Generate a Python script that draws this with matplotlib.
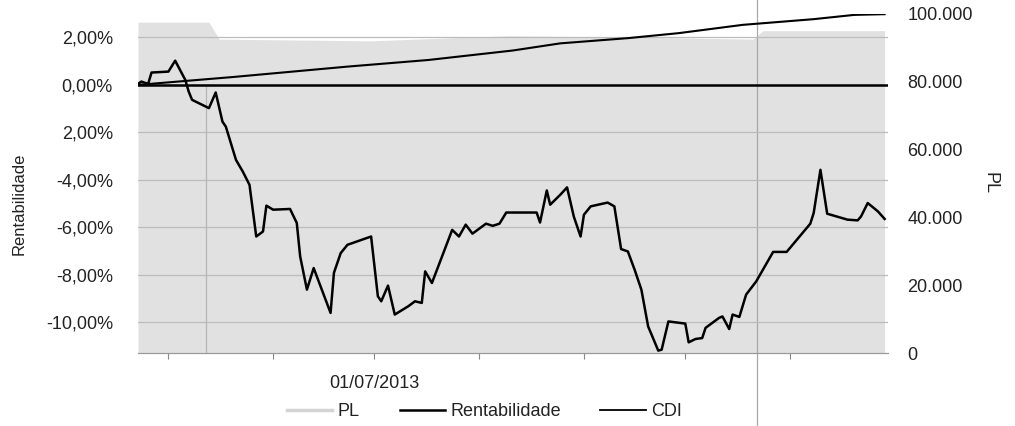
import numpy as np
import pandas as pd
import matplotlib
matplotlib.use('Agg')
import matplotlib.pyplot as plt
from matplotlib.lines import Line2D

#------------------------------------------------------------------------------
# data
#------------------------------------------------------------------------------

rent_dates=['2013-04-22','2013-04-23','2013-04-25','2013-04-26','2013-05-01',
            '2013-05-03','2013-05-06','2013-05-07','2013-05-08','2013-05-13',
            '2013-05-15','2013-05-17','2013-05-18','2013-05-21','2013-05-23',
            '2013-05-25','2013-05-27','2013-05-29','2013-05-30','2013-06-01',
            '2013-06-06','2013-06-08','2013-06-09','2013-06-11','2013-06-13',
            '2013-06-18','2013-06-19','2013-06-21','2013-06-23','2013-06-30',
            '2013-07-01','2013-07-02','2013-07-03','2013-07-05','2013-07-07',
            '2013-07-11','2013-07-13','2013-07-15','2013-07-16','2013-07-18',
            '2013-07-21','2013-07-24','2013-07-26','2013-07-28','2013-07-30',
            '2013-08-03','2013-08-05','2013-08-07','2013-08-09','2013-08-15',
            '2013-08-18','2013-08-19','2013-08-21','2013-08-22','2013-08-25',
            '2013-08-27','2013-08-29','2013-08-31','2013-09-01','2013-09-03',
            '2013-09-08','2013-09-10','2013-09-12','2013-09-14','2013-09-16',
            '2013-09-18','2013-09-20','2013-09-23','2013-09-24','2013-09-26',
            '2013-10-01','2013-10-02','2013-10-04','2013-10-06','2013-10-07',
            '2013-10-11','2013-10-12','2013-10-14','2013-10-15','2013-10-17',
            '2013-10-19','2013-10-22','2013-10-27','2013-10-31','2013-11-07',
            '2013-11-08','2013-11-10','2013-11-12','2013-11-18','2013-11-21',
            '2013-11-22','2013-11-24','2013-11-27','2013-11-29']

rent_values=[0.04,0.14,0.04,0.52,0.56,
             1.02,0.21,-0.28,-0.63,-0.98,
             -0.32,-1.55,-1.76,-3.16,-3.65,
             -4.21,-6.39,-6.18,-5.09,-5.26,
             -5.23,-5.82,-7.23,-8.63,-7.72,
             -9.61,-7.92,-7.09,-6.74,-6.39,
             -7.65,-8.91,-9.12,-8.46,-9.68,
             -9.33,-9.12,-9.19,-7.86,-8.35,
             -7.23,-6.11,-6.39,-5.89,-6.27,
             -5.85,-5.94,-5.85,-5.38,-5.38,
             -5.38,-5.80,-4.45,-5.05,-4.63,
             -4.32,-5.55,-6.39,-5.47,-5.12,
             -4.96,-5.12,-6.92,-7.02,-7.79,
             -8.63,-10.18,-11.20,-11.16,-9.97,
             -10.06,-10.85,-10.71,-10.67,-10.24,
             -9.82,-9.76,-10.29,-9.68,-9.78,
             -8.84,-8.28,-7.04,-7.04,-5.85,
             -5.40,-3.58,-5.43,-5.68,-5.71,
             -5.55,-4.98,-5.33,-5.65]

cdi_dates=['2013-04-22','2013-05-20','2013-06-23','2013-07-17','2013-08-11',
           '2013-08-25','2013-09-14','2013-09-29','2013-10-18','2013-11-08',
           '2013-11-20','2013-11-29']
cdi_values=[0.00,0.33,0.77,1.05,1.45,1.75,1.97,2.18,2.53,2.77,2.95,2.98]

pl_dates=['2013-04-22','2013-05-13','2013-05-16','2013-06-30','2013-08-10',
          '2013-09-20','2013-10-21','2013-10-24','2013-11-29']
pl_values=[97500,97500,92500,92000,93500,93000,92500,95000,95000]

left_ticks=[2,0,-2,-4,-6,-8,-10]
left_labels=['2,00%','0,00%','2,00%','-4,00%','-6,00%','-8,00%','-10,00%']
right_ticks=[0,20000,40000,60000,80000,100000]
right_labels=['0','20.000','40.000','60.000','80.000','100.000']
x_ticks=['2013-05-01','2013-06-01','2013-07-01','2013-08-01','2013-09-01',
         '2013-10-01','2013-11-01']
x_labels=['','','01/07/2013','','','','']

#------------------------------------------------------------------------------
# figure
#------------------------------------------------------------------------------

plt.rcParams['font.family']=['Liberation Sans','DejaVu Sans']
txt='#222222'

fig=plt.figure(figsize=(10.15,4.26),dpi=100)
ax=fig.add_axes([138/1015,(426-353)/426,750/1015,339.3/426])
ax2=ax.twinx()

# PL as a grey area on the secondary axis, drawn underneath
ax2.set_zorder(1)
ax.set_zorder(2)
ax.patch.set_visible(False)
ax2.fill_between(pd.to_datetime(pl_dates),pl_values,0,color='#e1e1e1',lw=0)
ax2.set_ylim(0,100000)
ax2.set_yticks(right_ticks)
ax2.set_yticklabels(right_labels,fontsize=13,color=txt)
ax2.tick_params(axis='y',length=0,pad=14)
ax2.set_ylabel('PL',fontsize=13,color=txt,rotation=270)
ax2.yaxis.set_label_coords(1.147,0.50)

ymin,ymax=-11.3,3.0
for g in left_ticks:
    ax.axhline(g,color='#bcbcbc',lw=0.9,zorder=0)
ax.axvline(pd.Timestamp('2013-05-12'),ymax=-ymin/(ymax-ymin),
           color='#b5b5b5',lw=0.9,zorder=0)

ax.axhline(0,color='black',lw=1.8,zorder=3)
ax.plot(pd.to_datetime(cdi_dates),cdi_values,color='black',lw=1.5,zorder=4)
ax.plot(pd.to_datetime(rent_dates),rent_values,color='black',lw=1.8,zorder=5)

ax.set_xlim(pd.Timestamp('2013-04-22'),pd.Timestamp('2013-11-30'))
ax.set_ylim(ymin,ymax)
ax.set_yticks(left_ticks)
ax.set_yticklabels(left_labels,fontsize=13,color=txt)
ax.tick_params(axis='y',length=0,pad=18)
ax.set_xticks(pd.to_datetime(x_ticks))
ax.set_xticklabels(x_labels,fontsize=13,color=txt)
ax.tick_params(axis='x',length=4,width=0.8,color='#888888',pad=12)
ax.set_ylabel('Rentabilidade',fontsize=12,color=txt)
ax.yaxis.set_label_coords(-0.148,0.439)

for a in (ax,ax2):
    for s in ['top','left','right']:
        a.spines[s].set_visible(False)
    a.spines['bottom'].set_color('#999999')
    a.spines['bottom'].set_linewidth(0.8)

# fold line running across the page
fig.add_artist(Line2D([757/1015,757/1015],[0,1],color='#a8a8a8',lw=0.9))

handles=[Line2D([0],[0],color='#d4d4d4',lw=2.5),
         Line2D([0],[0],color='black',lw=1.8),
         Line2D([0],[0],color='black',lw=1.3)]
fig.legend(handles,['PL','Rentabilidade','CDI'],loc='center left',
           bbox_to_anchor=(0.283,0.034),ncol=3,frameon=False,fontsize=13,
           handlelength=2.5,handletextpad=0.3,columnspacing=2.2,
           borderpad=0,borderaxespad=0,labelcolor=txt)

plt.savefig('out.png',dpi=100)
